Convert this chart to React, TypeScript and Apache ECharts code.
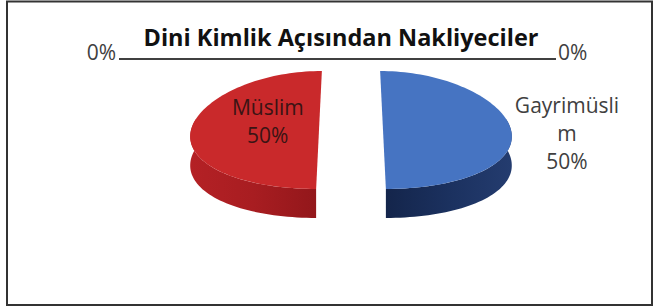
import React, { useEffect, useRef } from "react";
import * as echarts from "echarts";

const titleText = "Dini Kimlik Açısından Nakliyeciler";
const categories = ["Gayrimüslim", "Müslim", "", ""];
const values = [50, 50, 0, 0];

const topColors = ["#4674C2", "#C9292B"];
const sideColors = [
  ["#14254B", "#1B315F", "#243C6F"],
  ["#B42125", "#A81D21", "#93171B"],
];

const CX = 351;
const CY = 130;
const RX = 128;
const RY = 59;
const DEPTH = 29;
const EXPLODE = 32;
const PERSP = 0.09;
const FONT = "Open Sans";

const total = values.reduce((a, b) => a + b, 0);

function project(theta: number, exX: number, exY: number, dz: number): number[] {
  const X = exX + RX * Math.sin(theta);
  const Y = exY - RY * Math.cos(theta);
  const k = 1 + (PERSP * Y) / RY;
  return [CX + X * k, CY + Y + dz];
}

function projectCenter(exX: number, exY: number, dz: number): number[] {
  const k = 1 + (PERSP * exY) / RY;
  return [CX + exX * k, CY + exY + dz];
}

function arcPoints(a0: number, a1: number, exX: number, exY: number, dz: number): number[][] {
  const n = Math.max(2, Math.ceil(((a1 - a0) / Math.PI) * 90));
  const pts: number[][] = [];
  for (let s = 0; s <= n; s++) {
    const t = a0 + ((a1 - a0) * s) / n;
    pts.push(project(t, exX, exY, dz));
  }
  return pts;
}

function renderItem(params: any, api: any) {
  const i = params.dataIndex;
  const v = values[i];
  const pct = total ? Math.round((v / total) * 100) : 0;
  const before = values.slice(0, i).reduce((a, b) => a + b, 0);
  const a0 = (before / total) * Math.PI * 2;
  const a1 = a0 + (v / total) * Math.PI * 2;

  if (v === 0) {
    const left = i % 2 === 0;
    const topPt = project(a0, 0, 0, 0);
    const lineY = 59;
    return {
      type: "group",
      children: [
        {
          type: "line",
          shape: left
            ? { x1: 119, y1: lineY, x2: topPt[0], y2: lineY }
            : { x1: topPt[0], y1: lineY, x2: 556, y2: lineY },
          style: { stroke: "#000", lineWidth: 1.6 },
        },
        {
          type: "text",
          style: {
            text: pct + "%",
            x: left ? 116 : 558,
            y: 52,
            align: left ? "right" : "left",
            verticalAlign: "middle",
            font: `21px "${FONT}"`,
            fill: "#404040",
          },
        },
      ],
    };
  }

  const mid = (a0 + a1) / 2;
  const exX = EXPLODE * Math.sin(mid);
  const exY = -EXPLODE * (RY / RX) * Math.cos(mid);

  const children: any[] = [];
  // outer wall (front visible part)
  const w0 = Math.max(a0, Math.PI * 0.44);
  const w1 = Math.min(a1, Math.PI * 1.56);
  if (w1 > w0) {
    const topArc = arcPoints(w0, w1, exX, exY, 0);
    const botArc = arcPoints(w0, w1, exX, exY, DEPTH).reverse();
    const sc = sideColors[i];
    children.push({
      type: "polygon",
      shape: { points: topArc.concat(botArc) },
      style: {
        fill: new echarts.graphic.LinearGradient(0, 0, 1, 0, [
          { offset: 0, color: sc[0] },
          { offset: 0.5, color: sc[1] },
          { offset: 1, color: sc[2] },
        ]),
      },
    });
  }
  // top face
  const center = projectCenter(exX, exY, 0);
  const top = [center].concat(arcPoints(a0, a1, exX, exY, 0));
  children.push({
    type: "polygon",
    shape: { points: top },
    style: { fill: topColors[i] },
  });

  // label
  const inside = i === 1;
  const name = categories[i];
  let lx: number, ly: number;
  if (inside) {
    const p = project(mid, exX, exY, 0);
    lx = CX + (p[0] - CX) * 0.52;
    ly = CY - 9;
  } else {
    const p = project(mid, exX, exY, 0);
    lx = p[0] + 56;
    ly = CY + 3;
  }
  children.push({
    type: "text",
    style: {
      text: name + "\n" + pct + "%",
      x: lx,
      y: ly,
      align: "center",
      verticalAlign: "middle",
      font: `21px "${FONT}"`,
      lineHeight: 28,
      width: inside ? 130 : 117,
      overflow: "breakAll",
      fill: inside ? "#3a1414" : "#404040",
    },
  });

  return { type: "group", children };
}

export default function App() {
  const ref = useRef<HTMLDivElement>(null);
  useEffect(() => {
    if (!ref.current) return;
    const chart = echarts.init(ref.current, undefined, { renderer: "svg" });
    chart.setOption({
      animation: false,
      backgroundColor: "#fff",
      title: {
        text: titleText,
        left: 336,
        top: 20,
        textAlign: "center",
        textStyle: {
          fontFamily: FONT,
          fontWeight: "bold",
          fontSize: 23.5,
          color: "#111",
        },
      },
      graphic: [
        {
          type: "rect",
          shape: { x: 7, y: 1.5, width: 645, height: 303.5 },
          style: { fill: "none", stroke: "#333", lineWidth: 2 },
          silent: true,
        },
      ],
      series: [
        {
          type: "custom",
          coordinateSystem: "none",
          renderItem,
          data: values.map((v, i) => ({ name: categories[i], value: v })),
        },
      ],
    });
    return () => chart.dispose();
  }, []);
  return (
    <div
      ref={ref}
      style={{ position: "fixed", left: 0, top: 0, width: 654, height: 308 }}
    />
  );
}
